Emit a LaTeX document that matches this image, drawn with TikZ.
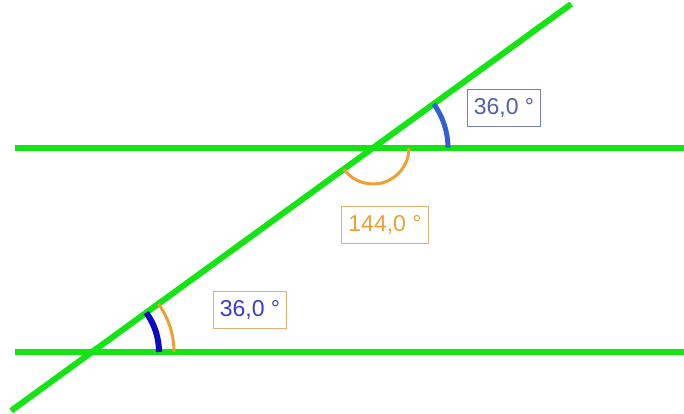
\documentclass[tikz,border=0pt]{standalone}
\usepackage{fontspec}
\setmainfont{Liberation Sans}
\usetikzlibrary{calc}
\definecolor{linegreen}{RGB}{20,228,20}
\definecolor{arcblue}{RGB}{50,95,210}
\definecolor{darkblue}{RGB}{10,10,190}
\definecolor{arcorange}{RGB}{235,160,50}
\definecolor{greyblue}{RGB}{85,95,165}
\definecolor{tanline}{RGB}{222,178,118}

\begin{document}
\begin{tikzpicture}[x=1pt, y=1pt,
    gline/.style={linegreen, line width=6pt},
    anglebox/.style={draw, line width=0.9pt, inner sep=0pt,
                     minimum height=37pt, minimum width=73pt,
                     font=\fontsize{23}{23}\selectfont},
    barc/.style={arcblue, line width=5pt},
    darc/.style={darkblue, line width=6pt},
    oarc/.style={arcorange, line width=3pt}
  ]
    \useasboundingbox (0,0) rectangle (684,414);
    % crossing points
    \coordinate (B) at (92,62);
    \coordinate (A) at (373,266);
    % lines
    \draw[gline] (15,266) -- (684,266);
    \draw[gline] (15,62) -- (684,62);
    \draw[gline] ($(B)+(216:100)$) -- ($(A)+(36:245)$);
    % angle marks
    \draw[barc] ($(A)+(75,0)$) arc[start angle=0, end angle=36, radius=75];
    \draw[oarc] ($(A)+(216:36)$) arc[start angle=216, end angle=360, radius=36];
    \draw[darc] ($(B)+(67,0)$) arc[start angle=0, end angle=36, radius=67];
    \draw[oarc] ($(B)+(82,0)$) arc[start angle=0, end angle=36, radius=82];
    % labels
    \node[anglebox, draw=greyblue!80, text=greyblue] (upper) at (504,306) {36,0 °};
    \node[anglebox, draw=tanline, text=arcorange, minimum width=87pt] (middle) at (385,189) {144,0 °};
    \node[anglebox, draw=tanline, text=darkblue!80] (lower) at (250,104) {36,0 °};
\end{tikzpicture}
\end{document}
